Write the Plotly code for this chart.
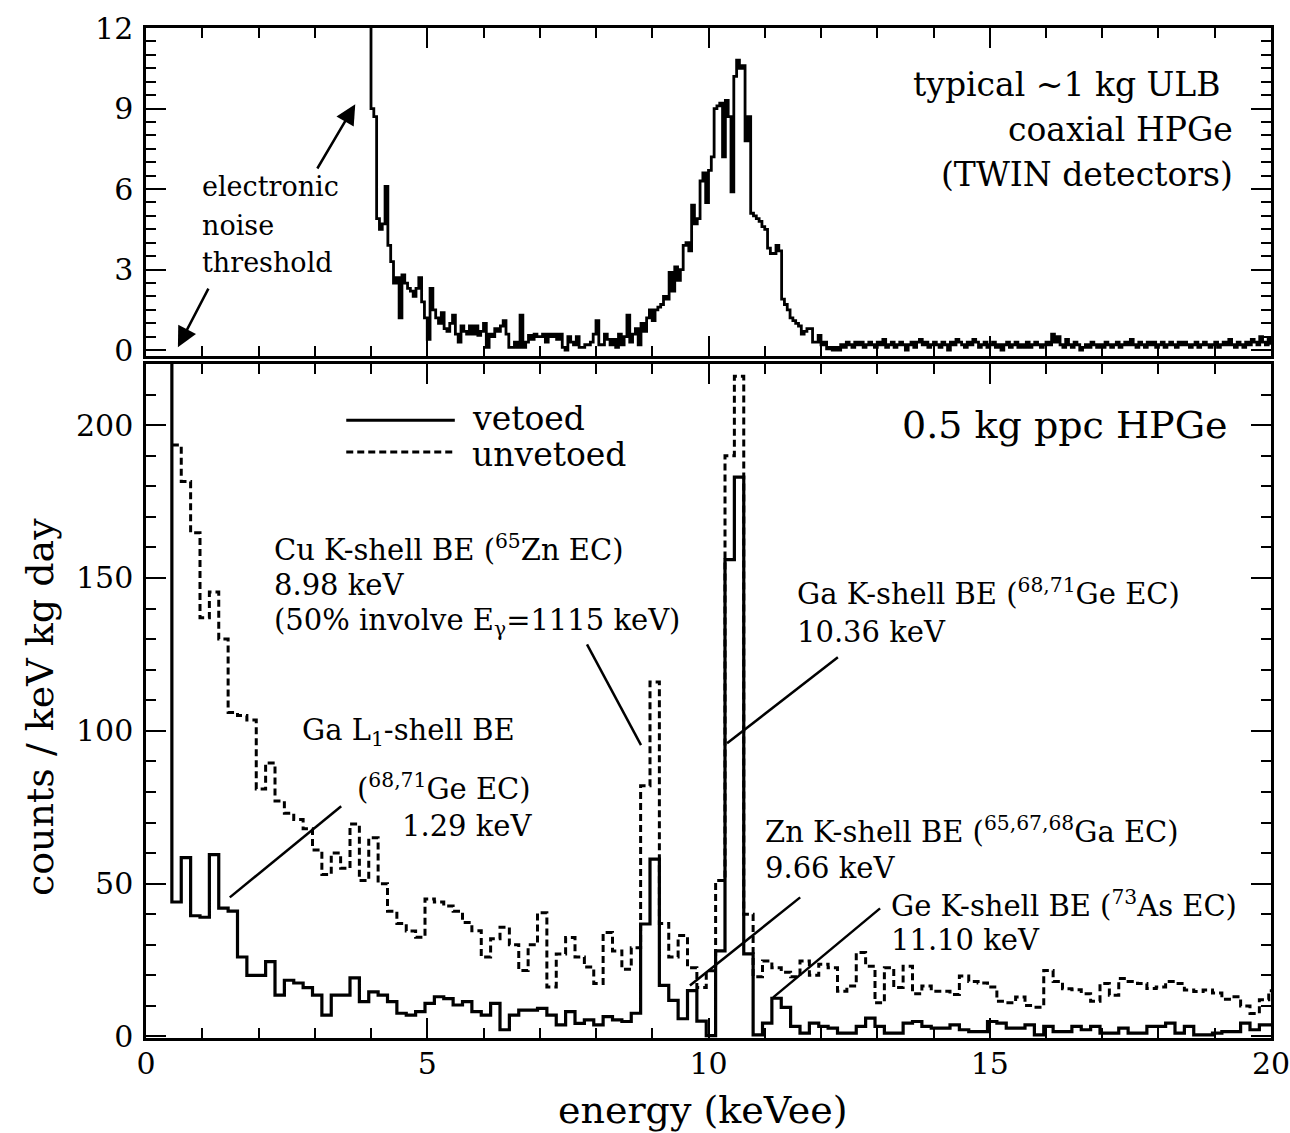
import plotly.graph_objects as go

FONT = "DejaVu Serif"

# ---------------- data ----------------
# bottom panel: 0.5 kg ppc HPGe, histogram bins of 1/6 keV starting at 0.46 keV
bin_start = 0.46
bin_width = 1.0 / 6.0
vetoed_spike = 260  # threshold spike (off scale)
vetoed = [
    44, 58.5, 39.5, 39, 59.5, 42, 41, 26, 20, 20,
    24.5, 13.5, 18.4, 17.5, 16, 13.5, 7, 13.5, 13.5, 19.2,
    11.4, 14.6, 13.5, 11.4, 7.6, 7, 8.1, 10.8, 13, 12.4,
    10.3, 11.4, 8.1, 7, 10.8, 2.2, 7, 8.6, 8.6, 9.2,
    7, 3.8, 8.1, 4.3, 5.4, 3.8, 6.5, 5.4, 4.9, 7.6,
    36.8, 58, 16.7, 11.8, 5.8, 15, 5, 0.3, 28, 156,
    183, 27, 0.5, 4.4, 12.5, 9.5, 3.3, 1.1, 4.4, 3.3,
    2.7, 1.1, 1.1, 3.3, 6, 3.3, 1.1, 1.1, 4.4, 4.9,
    3.3, 2.7, 2.7, 3.8, 2.2, 1.6, 1.6, 4.9, 4.4, 2.7,
    2.7, 3.8, 0.5, 3.3, 1.6, 1.6, 3.3, 2.2, 3.3, 1.1,
    1.1, 2.7, 1.1, 1.1, 3.3, 3.3, 4.4, 1.1, 3.3, 0.5,
    0.5, 1.1, 1.6, 1.6, 4.4, 2.2, 3.8, 3.8,
]
unvetoed = [
    193.5, 181.6, 164.8, 137, 145.4, 130, 106, 105, 103.5, 81,
    89.5, 77, 73, 71, 68, 61, 53, 60, 55, 69.5,
    51, 65, 50, 41, 37, 34.5, 32.5, 45, 44, 42.7,
    41, 37.3, 34.6, 26, 32, 35.7, 30, 21.6, 30, 40.5,
    16.2, 27, 32.4, 26, 22.7, 17.3, 34, 28, 22, 29,
    82, 116, 37, 26, 33, 22.5, 16, 21.5, 51, 190,
    216, 40, 19.5, 24.7, 22.5, 21, 19.5, 24.7, 20, 23.6,
    22.5, 14.8, 16.5, 27.5, 23, 11, 22.5, 16, 23, 14,
    16.5, 14.8, 14.8, 13.7, 19.8, 18, 17.5, 16.2, 11.5, 11,
    12.9, 10.1, 9.6, 21.6, 18, 15.6, 15.3, 14, 11.5, 17.3,
    13.5, 19, 18, 17.3, 15.7, 16.2, 18, 17.3, 15.2, 14.7,
    15.2, 14.2, 12.2, 13, 10, 7.5, 12, 15,
]

# top panel: TWIN coaxial HPGe, 0.05 keV bins starting at 3.95 keV
top_start = 3.95
top_step = 0.05
top_counts = [
    12.5,
    9.0, 8.7, 4.9, 4.5, 4.7, 6.1, 3.9, 3.3, 2.5, 2.7, 1.2, 2.8, 2.5, 2.3, 2.2, 2.0, 2.3, 2.7, 1.8, 1.2,
    0.4, 2.3, 1.5, 1.2, 1.0, 1.4, 0.8, 0.7, 1.0, 1.3, 0.6, 0.3, 0.9, 0.7, 0.6, 0.9, 0.6, 0.9, 0.55, 0.7,
    1.0, 0.1, 0.6, 0.5, 0.8, 0.7, 0.9, 1.1, 0.6, 0.1, 0.1, 0.3, 0.1, 1.3, 0.1, 0.3, 0.55, 0.4, 0.6, 0.5,
    0.5, 0.6, 0.3, 0.6, 0.5, 0.6, 0.4, 0.6, 0.1, 0.0, 0.5, 0.3, 0.2, 0.5, 0.1, 0.1, 0.2, 0.2, 0.3, 0.6,
    1.1, 0.2, 0.2, 0.6, 0.4, 0.2, 0.4, 0.1, 0.6, 0.2, 0.5, 1.3, 0.3, 0.6, 0.8, 0.2, 1.0, 0.7, 1.2, 1.5,
    1.1, 1.5, 1.6, 1.7, 2.0, 1.9, 2.9, 2.2, 3.1, 2.6, 3.0, 3.9, 4.0, 3.7, 5.4, 4.7, 4.9, 6.3, 6.6, 5.5,
    6.7, 7.2, 9.0, 9.1, 9.2, 7.2, 9.3, 8.7, 5.9, 10.2, 10.8, 10.5, 10.6, 7.8, 8.7, 5.1, 5.0, 4.9, 4.8, 4.6,
    4.5, 3.8, 3.6, 3.6, 3.9, 3.7, 1.9, 1.7, 1.5, 1.2, 1.1, 1.0, 0.9, 0.6, 0.7, 0.8, 0.8, 0.3, 0.3, 0.55,
    0.2, 0.3, 0.05, 0.1, 0.0, 0.1, 0.0, 0.2, 0.1, 0.3, 0.2, 0.1, 0.3, 0.2, 0.3, 0.1, 0.2, 0.3, 0.2, 0.1,
    0.3, 0.2, 0.4, 0.1, 0.2, 0.3, 0.1, 0.2, 0.3, 0.2, 0.0, 0.2, 0.3, 0.1, 0.3, 0.4, 0.2, 0.3, 0.1, 0.2,
    0.3, 0.2, 0.1, 0.3, 0.2, 0.0, 0.3, 0.2, 0.4, 0.3, 0.2, 0.1, 0.3, 0.2, 0.4, 0.3, 0.1, 0.2, 0.3, 0.1,
    0.2, 0.3, 0.1, 0.2, 0.0, 0.2, 0.3, 0.1, 0.2, 0.3, 0.1, 0.2, 0.1, 0.3, 0.1, 0.2, 0.3, 0.2, 0.1, 0.2,
    0.3, 0.2, 0.6, 0.3, 0.5, 0.2, 0.1, 0.4, 0.2, 0.1, 0.3, 0.2, 0.0, 0.1, 0.2, 0.1, 0.3, 0.2, 0.1, 0.2,
    0.1, 0.3, 0.2, 0.1, 0.2, 0.3, 0.1, 0.2, 0.3, 0.2, 0.4, 0.2, 0.1, 0.3, 0.2, 0.1, 0.3, 0.2, 0.3, 0.1,
    0.2, 0.3, 0.1, 0.2, 0.3, 0.2, 0.1, 0.3, 0.2, 0.3, 0.2, 0.1, 0.2, 0.3, 0.1, 0.2, 0.3, 0.2, 0.1, 0.2,
    0.3, 0.1, 0.2, 0.3, 0.2, 0.4, 0.2, 0.1, 0.3, 0.2, 0.1, 0.3, 0.2, 0.4, 0.3, 0.2, 0.5, 0.3, 0.2, 0.4,
    0.2,
]

x_ticks = [0, 5, 10, 15, 20]
y_ticks_bottom = [0, 50, 100, 150, 200]
y_ticks_top = [0, 3, 6, 9, 12]

# ---------------- derived step coordinates ----------------
edges = [bin_start + i * bin_width for i in range(len(vetoed) + 1)]
x_unv = edges
y_unv = unvetoed + [unvetoed[-1]]
x_vet = [edges[0]] + edges
y_vet = [vetoed_spike] + vetoed + [vetoed[-1]]
top_e = [top_start + i * top_step for i in range(len(top_counts))]

fig = go.Figure()
fig.add_trace(go.Scatter(x=top_e, y=top_counts, mode="lines", xaxis="x2", yaxis="y2",
                         line=dict(color="black", width=2.8, shape="hv"), showlegend=False))
fig.add_trace(go.Scatter(x=x_unv, y=y_unv, mode="lines", name="unvetoed",
                         line=dict(color="black", width=3, dash="7px,4px", shape="hv"), showlegend=False))
fig.add_trace(go.Scatter(x=x_vet, y=y_vet, mode="lines", name="vetoed",
                         line=dict(color="black", width=3.2, shape="hv"), showlegend=False))

common = dict(showline=True, linecolor="black", linewidth=2.5, mirror="allticks",
              ticks="inside", tickwidth=2, tickcolor="black", ticklen=20,
              showgrid=False, zeroline=False, ticklabeloverflow="allow", automargin=False,
              tickfont=dict(family=FONT, size=30, color="black"))


def minor(dt):
    return dict(dtick=dt, tick0=0, ticks="inside", ticklen=10, tickwidth=2,
                tickcolor="black", showgrid=False)


fig.update_layout(
    width=1290, height=1133,
    margin=dict(l=146, r=19, t=28, b=95, autoexpand=False),
    plot_bgcolor="white", paper_bgcolor="white",
    showlegend=False,
    font=dict(family=FONT, color="black"),
    xaxis=dict(domain=[0, 1], anchor="y", range=[0, 20.0001], tickvals=x_ticks,
               minor=minor(1), ticklabelstandoff=-3, **common),
    yaxis=dict(domain=[0, 0.6673], anchor="x", range=[-0.5, 220], tickvals=y_ticks_bottom,
               minor=minor(10), ticklabelstandoff=4, **common),
    xaxis2=dict(domain=[0, 1], anchor="y2", range=[0, 20.0001], tickvals=x_ticks,
                showticklabels=False, minor=minor(1), **common),
    yaxis2=dict(domain=[0.6752, 1], anchor="x2", range=[-0.22, 12], tickvals=y_ticks_top,
                minor=minor(0.5), ticklabelstandoff=4, **common),
)

ann = []


def text(x, y, s, size, xref="x", yref="y", xanchor="left"):
    ann.append(dict(x=x, y=y, xref=xref, yref=yref, text=s, showarrow=False,
                    xanchor=xanchor, yanchor="middle",
                    font=dict(family=FONT, size=size, color="black")))


# top panel texts
text(0.96, 6.08, "electronic", 27, "x2", "y2")
text(0.96, 4.66, "noise", 27, "x2", "y2")
text(0.96, 3.28, "threshold", 27, "x2", "y2")
text(19.15, 9.89, "typical ~1 kg ULB", 33, "x2", "y2", "right")
text(19.36, 8.21, "coaxial HPGe", 33, "x2", "y2", "right")
text(19.36, 6.53, "(TWIN detectors)", 33, "x2", "y2", "right")

# top panel arrows
for hx, hy, tx, ty in [(3.72, 9.16, 3.03, 6.71), (0.567, 0.11, 1.123, 2.35)]:
    ann.append(dict(x=hx, y=hy, ax=tx, ay=ty, xref="x2", yref="y2", axref="x2", ayref="y2",
                    showarrow=True, arrowhead=2, arrowsize=1.6, arrowwidth=2.5,
                    arrowcolor="black", text=""))

# bottom panel texts
AS = 29
text(19.27, 200, "0.5 kg ppc HPGe", 38, xanchor="right")
text(5.76, 202.3, "vetoed", 33)
text(5.76, 190.5, "unvetoed", 33)
text(2.24, 159.7, "Cu K-shell BE (<sup>65</sup>Zn EC)", AS)
text(2.24, 147.6, "8.98 keV", AS)
text(2.24, 135.5, "(50% involve E<sub>γ</sub>=1115 keV)", AS)
text(11.54, 145.3, "Ga K-shell BE (<sup>68,71</sup>Ge EC)", AS)
text(11.54, 132.2, "10.36 keV", AS)
text(2.74, 99.5, "Ga L<sub>1</sub>-shell BE", AS)
text(3.72, 81.5, "(<sup>68,71</sup>Ge EC)", AS)
text(4.52, 68.7, "1.29 keV", AS)
text(10.97, 67.4, "Zn K-shell BE (<sup>65,67,68</sup>Ga EC)", AS)
text(10.97, 55.0, "9.66 keV", AS)
text(13.21, 43.5, "Ge K-shell BE (<sup>73</sup>As EC)", AS)
text(13.21, 31.4, "11.10 keV", AS)

# axis titles
ann.append(dict(x=-0.0942, y=0.3277, xref="paper", yref="paper", text="counts / keV kg day",
                textangle=-90, showarrow=False, xanchor="center", yanchor="middle",
                font=dict(family=FONT, size=38, color="black")))
ann.append(dict(x=0.495, y=-0.0713, xref="paper", yref="paper", text="energy (keVee)",
                showarrow=False, xanchor="center", yanchor="middle",
                font=dict(family=FONT, size=38, color="black")))

fig.update_layout(annotations=ann)

# callout lines and manual legend samples
shapes = []
for x0, y0, x1, y1 in [(7.84, 128.3, 8.80, 95.3), (12.30, 124.1, 10.33, 95.9),
                       (3.47, 75.3, 1.49, 45.5), (11.63, 45.5, 9.67, 16.7),
                       (13.05, 41.9, 11.15, 12.8)]:
    shapes.append(dict(type="line", xref="x", yref="y", x0=x0, y0=y0, x1=x1, y1=y1,
                       line=dict(color="black", width=2.5)))
shapes.append(dict(type="line", xref="x", yref="y", x0=3.56, y0=201.6, x1=5.49, y1=201.6,
                   line=dict(color="black", width=3.2)))
shapes.append(dict(type="line", xref="x", yref="y", x0=3.56, y0=191.2, x1=5.49, y1=191.2,
                   line=dict(color="black", width=3, dash="7px,4px")))
fig.update_layout(shapes=shapes)

fig.write_html("out.html")
